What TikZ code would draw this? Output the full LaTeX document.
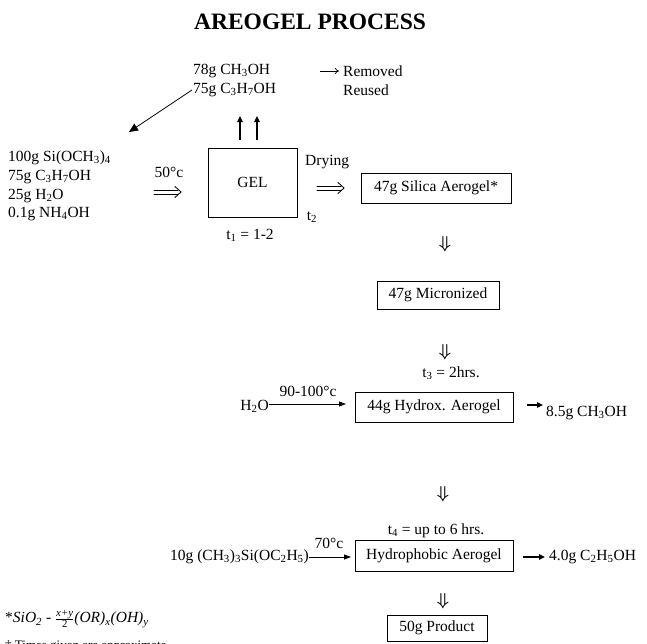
\documentclass[tikz,border=0pt]{standalone}
\usepackage{amsmath}
\usepackage{fontspec}
\setmainfont{Liberation Serif}
\usetikzlibrary{arrows.meta}
\tikzset{
  txt/.style={inner sep=0pt, font=\fontsize{15.5}{18.7}\selectfont},
  procbox/.style={draw, line width=0.9pt, inner sep=0pt, font=\fontsize{15.5}{18.7}\selectfont},
  sym/.style={inner sep=0pt, font=\fontsize{16}{18}\selectfont\boldmath},
  dblline/.style={line width=0.85pt, line cap=round},
  thinarrow/.style={line width=0.8pt, -{Triangle[length=7pt,width=5pt]}},
  boldarrow/.style={line width=1.3pt, -{Triangle[length=6pt,width=5.5pt]}},
  diagarrow/.style={line width=0.8pt, -{Triangle[length=9pt,width=8pt]}},
  uparrow/.style={line width=1.1pt, -{Triangle[length=6pt,width=5.5pt]}},
  textarrow/.style={line width=0.7pt, -{To[length=4pt,width=6pt]}}
}
\newcommand{\dblarrowdraw}[2]{%
  \draw[dblline] ([yshift=2pt]#1) -- ([yshift=2pt,xshift=-3pt]#2);
  \draw[dblline] ([yshift=-2pt]#1) -- ([yshift=-2pt,xshift=-3pt]#2);
  \draw[dblline] ([xshift=-6pt,yshift=5.5pt]#2) .. controls ([xshift=-3pt,yshift=2pt]#2) .. (#2) .. controls ([xshift=-3pt,yshift=-2pt]#2) .. ([xshift=-6pt,yshift=-5.5pt]#2);
}
\begin{document}
\begin{tikzpicture}[x=1pt,y=-1pt]
\useasboundingbox (0,0) rectangle (647,643);

% title
\node[inner sep=0pt, font=\fontsize{23.5}{28}\selectfont\bfseries] (title) at (310,22) {AREOGEL PROCESS};

% top solvents
\node[txt, anchor=west, align=left] (solv) at (193,80.5) {78g CH\textsubscript{3}OH\\75g C\textsubscript{3}H\textsubscript{7}OH};
\coordinate (remstart) at (320,71);
\coordinate (remend) at (339,71);
\draw[textarrow] (remstart) -- (remend);
\node[txt, anchor=west, align=left] (removed) at (343,80.5) {Removed\\Reused};

% recycle arrow
\coordinate (dstart) at (192,90);
\coordinate (recycletip) at (129,132);
\draw[diagarrow] (dstart) -- (recycletip);

% feed
\node[txt, anchor=west, align=left] (feed) at (8,186) {100g Si(OCH\textsubscript{3})\textsubscript{4}\\75g C\textsubscript{3}H\textsubscript{7}OH\\25g H\textsubscript{2}O\\0.1g NH\textsubscript{4}OH};
\node[txt] (t50) at (169,172) {50°c};
\coordinate (d1a) at (154,192);
\coordinate (d1b) at (181,192);
\dblarrowdraw{d1a}{d1b}

% gel
\node[procbox, minimum width=89pt, minimum height=69pt] (gel) at (252.5,182.5) {GEL};
\node[txt] (t1) at (250,235) {t\textsubscript{1} = 1-2};
\coordinate (up1) at (240,116);
\coordinate (up2) at (257,116);
\draw[uparrow] (240,140) -- (up1);
\draw[uparrow] (257,140) -- (up2);

% drying
\node[txt, anchor=west] (drying) at (305,162) {Drying};
\coordinate (d2a) at (317,188);
\coordinate (d2b) at (344,188);
\dblarrowdraw{d2a}{d2b}
\node[txt] (t2) at (312,217) {t\textsubscript{2}};

% silica aerogel
\node[procbox, minimum width=150pt, minimum height=30pt] (silica) at (436,188) {47g Silica Aerogel*};
\node[sym] (down1) at (445,244) {$\Downarrow$};

% micronized
\node[procbox, minimum width=122pt, minimum height=28pt] (micro) at (438,295) {47g Micronized};
\node[sym] (down2) at (445,352) {$\Downarrow$};
\node[txt] (t3) at (451,373) {t\textsubscript{3} = 2hrs.};

% hydrox
\node[procbox, minimum width=158pt, minimum height=30pt] (hydrox) at (434,407) {44g Hydrox. Aerogel};
\node[txt, anchor=east] (water) at (269,406) {H\textsubscript{2}O};
\coordinate (wend) at (346,404);
\draw[thinarrow] (water.east |- wend) -- (wend);
\node[txt] (t90) at (308,391) {90-100°c};
\coordinate (mstart) at (527,405);
\node[txt, anchor=west] (meoh) at (546,413) {8.5g CH\textsubscript{3}OH};
\draw[boldarrow] (mstart) -- (543,405);
\node[sym] (down3) at (443,494) {$\Downarrow$};
\node[txt] (t4) at (436,531) {t\textsubscript{4} = up to 6 hrs.};

% hydrophobic
\node[procbox, minimum width=158pt, minimum height=31pt] (hydro) at (434,555.5) {Hydrophobic Aerogel};
\node[txt, anchor=east] (silane) at (309,557) {10g (CH\textsubscript{3})\textsubscript{3}Si(OC\textsubscript{2}H\textsubscript{5})};
\coordinate (send) at (351,557);
\draw[thinarrow] (silane.east |- send) -- (send);
\node[txt] (t70) at (329,543) {70°c};
\coordinate (estart) at (523,557);
\node[txt, anchor=west] (etoh) at (549,557) {4.0g C\textsubscript{2}H\textsubscript{5}OH};
\draw[boldarrow] (estart) -- (545,557);
\node[sym] (down4) at (443,601) {$\Downarrow$};

% product
\node[procbox, minimum width=100pt, minimum height=26pt] (product) at (437,628) {50g Product};

% footnotes
\node[txt, anchor=west] (formula) at (5,619) {*\textit{SiO\textsubscript{2}} - $\tfrac{\textit{x+y}}{\textrm{2}}$\textit{(OR)\textsubscript{x}(OH)\textsubscript{y}}};
\node[inner sep=0pt, anchor=north west, font=\fontsize{13}{15}\selectfont] (note) at (5,640.5) {† Times given are approximate};
\end{tikzpicture}
\end{document}
